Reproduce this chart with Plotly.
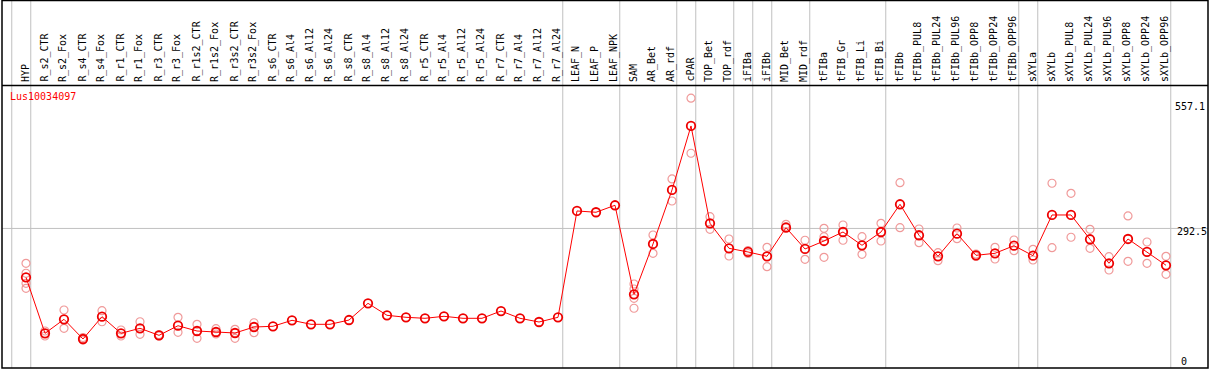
import plotly.graph_objects as go

W, H = 1209, 370

categories = ["HYP", "R_s2_CTR", "R_s2_Fox", "R_s4_CTR", "R_s4_Fox", "R_r1_CTR", "R_r1_Fox",
              "R_r3_CTR", "R_r3_Fox", "R_r1s2_CTR", "R_r1s2_Fox", "R_r3s2_CTR", "R_r3s2_Fox",
              "R_s6_CTR", "R_s6_Al4", "R_s6_Al12", "R_s6_Al24", "R_s8_CTR", "R_s8_Al4",
              "R_s8_Al12", "R_s8_Al24", "R_r5_CTR", "R_r5_Al4", "R_r5_Al12", "R_r5_Al24",
              "R_r7_CTR", "R_r7_Al4", "R_r7_Al12", "R_r7_Al24", "LEAF_N", "LEAF_P", "LEAF_NPK",
              "SAM", "AR_Bet", "AR_rdf", "cPAR", "TOP_Bet", "TOP_rdf", "iFIBa", "iFIBb",
              "MID_Bet", "MID_rdf", "tFIBa", "tFIB_Gr", "tFIB_Li", "tFIB_Bi", "tFIBb",
              "tFIBb_PUL8", "tFIBb_PUL24", "tFIBb_PUL96", "tFIBb_OPP8", "tFIBb_OPP24",
              "tFIBb_OPP96", "sXYLa", "sXYLb", "sXYLb_PUL8", "sXYLb_PUL24", "sXYLb_PUL96",
              "sXYLb_OPP8", "sXYLb_OPP24", "sXYLb_OPP96"]

mean_values = [189.7, 71.9, 101.4, 60.0, 106.9, 71.9, 82.5, 67.7, 87.9, 76.8, 74.7, 72.6, 85.2,
               86.7, 99.3, 90.9, 90.9, 99.9, 135.0, 109.8, 105.6, 103.5, 107.7, 103.5, 103.5,
               118.8, 103.5, 95.7, 105.6, 329.2, 326.5, 341.2,
               154.0, 259.8, 373.4, 508.0, 303.3, 250.7, 243.0, 233.9,
               294.1, 249.3, 266.1, 285.0, 257.0, 285.0, 343.3,
               278.1, 233.9, 281.4, 236.0, 240.2, 256.2,
               235.2, 320.8, 320.8, 269.7, 219.2, 270.3, 243.0, 215.0]

replicate_values = [
    [219.2, 198.2, 177.1, 166.6], [76.8, 66.3], [121.0, 82.5], [63.1, 57.8], [119.5, 96.3],
    [78.9, 66.3], [96.3, 69.8], [69.4, 66.3], [105.6, 74.0], [90.9, 61.4], [81.6, 70.5],
    [80.4, 61.4], [94.2, 73.2],
    [], [], [], [], [], [], [], [], [], [], [], [], [], [], [], [],
    [], [], [],
    [175.6, 165.1, 145.6, 124.6], [278.7, 240.2], [396.5, 350.2], [566.3, 450.6],
    [317.2, 290.7], [270.3, 234.5], [246.1, 239.8], [252.8, 212.0],
    [301.2, 296.2], [267.6, 227.6], [292.8, 275.1, 231.8], [299.7, 267.6], [275.1, 238.1],
    [303.3, 266.1], [388.7, 294.1],
    [291.3, 262.5], [241.5, 224.7], [293.4, 270.9], [238.7, 233.5], [252.8, 228.2],
    [268.2, 245.7],
    [248.6, 226.1], [387.5, 252.0], [366.4, 273.9], [290.7, 250.7], [233.1, 205.1],
    [318.7, 223.4], [264.0, 219.2], [233.9, 196.0]]

group_ends = [-1, 0, 28, 31, 34, 35, 37, 38, 39, 41, 45, 52, 53, 60]
y_tick_values = [557.1, 292.5, 0]
y_tick_labels = ["557.1", "292.5", "0"]
gene_name = "Lus10034097"

# ---- layout geometry (pixels) ----
px_left, px_right, px_top, px_bottom = 2, 1208, 86, 368
col_step = 19.0
first_col_px = 26.0
x_min = -(first_col_px - px_left) / col_step
x_max = x_min + (px_right - px_left) / col_step
y_min, y_max = -1.0, 592.0

def py(p):  # pixel y -> paper
    return (H - p) / H

def pxp(p):  # pixel x -> paper
    return p / W

x_idx = list(range(len(categories)))
rep_x, rep_y = [], []
for i, reps in enumerate(replicate_values):
    for v in reps:
        rep_x.append(i)
        rep_y.append(v)

fig = go.Figure()
fig.add_trace(go.Scatter(x=rep_x, y=rep_y, mode="markers",
                         marker=dict(symbol="circle-open", size=8, color="#f09a9a",
                                     line=dict(width=1.2, color="#f09a9a")),
                         hoverinfo="skip", showlegend=False))
fig.add_trace(go.Scatter(x=x_idx, y=mean_values, mode="lines+markers",
                         line=dict(color="#ff0000", width=1),
                         marker=dict(symbol="circle-open", size=8.5, color="#ee0000",
                                     line=dict(width=1.8, color="#ee0000")),
                         text=categories, showlegend=False))

shapes = []
for g in group_ends:
    shapes.append(dict(type="line", xref="x", yref="paper", x0=g + 0.25, x1=g + 0.25,
                       y0=py(px_bottom), y1=1.0, line=dict(color="#c0c0c0", width=1),
                       layer="below"))
shapes.append(dict(type="line", xref="paper", yref="y", x0=pxp(px_left), x1=pxp(px_right),
                   y0=y_tick_values[1], y1=y_tick_values[1],
                   line=dict(color="#c0c0c0", width=1), layer="below"))
shapes.append(dict(type="line", xref="paper", yref="paper", x0=pxp(px_left), x1=pxp(px_right),
                   y0=py(px_top - 0.5), y1=py(px_top - 0.5), line=dict(color="black", width=1.5)))
shapes.append(dict(type="rect", xref="paper", yref="paper", x0=pxp(px_left), x1=pxp(px_right),
                   y0=py(px_bottom), y1=py(0.5), line=dict(color="black", width=1.5)))

annotations = []
for i, c in enumerate(categories):
    annotations.append(dict(x=i - 0.05, xref="x", y=py(83), yref="paper", text=c,
                            textangle=-90, showarrow=False, xanchor="center",
                            yanchor="bottom", borderpad=0,
                            font=dict(family="DejaVu Sans Mono", size=10, color="black")))
annotations.append(dict(x=pxp(9), y=py(96.5), xref="paper", yref="paper", text=gene_name,
                        showarrow=False, xanchor="left", yanchor="middle", borderpad=0,
                        font=dict(family="DejaVu Sans Mono", size=10, color="#ff0000")))
label_left = [1174, 1176, 1180]
for v, t, lx in zip(y_tick_values, y_tick_labels, label_left):
    ypix = px_bottom - (v - y_min) / (y_max - y_min) * (px_bottom - px_top)
    ypix = min(ypix + 3.5, px_bottom - 6.5)
    annotations.append(dict(x=pxp(lx), y=py(ypix), xref="paper", yref="paper", text=t,
                            showarrow=False, xanchor="left", yanchor="middle", borderpad=0,
                            font=dict(family="DejaVu Sans Mono", size=10, color="black")))

fig.update_layout(
    width=W, height=H, autosize=False,
    margin=dict(l=0, r=0, t=0, b=0, pad=0),
    paper_bgcolor="white", plot_bgcolor="white",
    xaxis=dict(domain=[pxp(px_left), pxp(px_right)], range=[x_min, x_max],
               showgrid=False, zeroline=False, showticklabels=False, ticks=""),
    yaxis=dict(domain=[py(px_bottom), py(px_top)], range=[y_min, y_max],
               showgrid=False, zeroline=False, showticklabels=False, ticks=""),
    shapes=shapes, annotations=annotations, showlegend=False,
)

fig.write_html("out.html", config={"displayModeBar": False},
               post_script="document.body.style.margin='0';document.body.style.padding='0';"
                           "document.documentElement.style.overflow='hidden';")
